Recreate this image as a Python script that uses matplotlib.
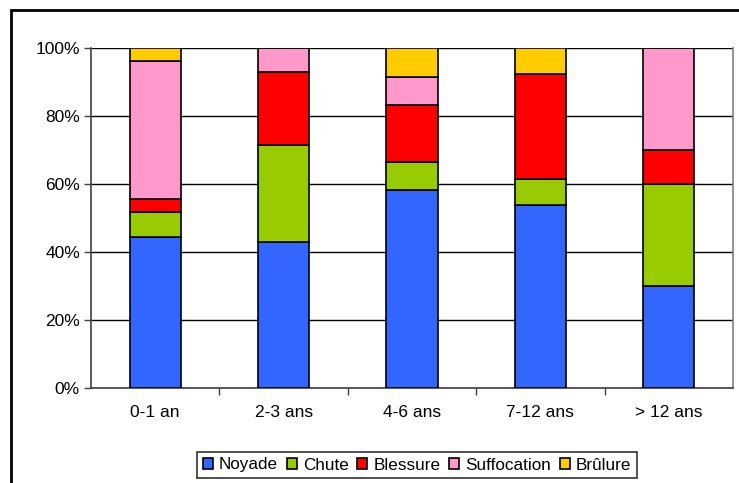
import matplotlib
matplotlib.use("Agg")
import matplotlib.pyplot as plt
from matplotlib.patches import Rectangle
from matplotlib.ticker import FuncFormatter, FixedLocator

plt.rcParams['font.family'] = ['Liberation Sans', 'DejaVu Sans']

# share of each cause per age group (%)
categories = ["0-1 an", "2-3 ans", "4-6 ans", "7-12 ans", "> 12 ans"]
noyade = [44.4, 42.9, 58.3, 53.8, 30.0]
chute = [7.4, 28.6, 8.3, 7.7, 30.0]
blessure = [3.7, 21.4, 16.7, 30.8, 10.0]
suffocation = [40.7, 7.1, 8.3, 0.0, 30.0]
brulure = [3.8, 0.0, 8.4, 7.7, 0.0]

series = [("Noyade", noyade, "#3366ff"),
          ("Chute", chute, "#99cc00"),
          ("Blessure", blessure, "#ff0000"),
          ("Suffocation", suffocation, "#ff99cc"),
          ("Brûlure", brulure, "#ffcc00")]

fig = plt.figure(figsize=(7.39, 4.83), dpi=100)
ax = fig.add_axes([91/739, 1-388/483, (733-91)/739, (388-48)/483])

x = list(range(len(categories)))
bottom = [0.0]*len(categories)
for name, vals, col in series:
    ax.bar(x, vals, width=0.4, bottom=bottom, color=col, edgecolor="black",
           linewidth=1.2, label=name, zorder=3)
    bottom = [b+v for b, v in zip(bottom, vals)]

ax.set_xlim(-0.5, len(categories)-0.5)
ax.set_ylim(0, 100)
ax.set_yticks(range(0, 101, 20))
ax.yaxis.set_major_formatter(FuncFormatter(lambda v, p: "%d%%" % v))
ax.grid(axis="y", color="black", linewidth=1, zorder=0)

ax.set_xticks(x)
ax.set_xticklabels(categories)
ax.xaxis.set_minor_locator(FixedLocator([i+0.5 for i in range(len(categories)-1)]))
ax.tick_params(axis="x", which="major", length=0, pad=12, labelsize=12.5)
ax.tick_params(axis="x", which="minor", length=5, width=1, color="#404040")
ax.tick_params(axis="y", length=5, width=1, color="#404040", labelsize=12.5, pad=3)

ax.spines["top"].set_visible(False)
ax.spines["left"].set_color("#404040")
ax.spines["bottom"].set_color("#404040")
ax.spines["left"].set_linewidth(1.2)
ax.spines["bottom"].set_linewidth(1.2)
ax.spines["right"].set_color("#808080")
ax.spines["right"].set_linewidth(1.2)

leg = fig.legend(loc="center", bbox_to_anchor=(417/739, 1-465/483), ncol=5,
                 fontsize=12.3, frameon=True, fancybox=False, handlelength=0.6,
                 handleheight=0.6, handletextpad=0.35, columnspacing=0.5,
                 borderpad=0.35, borderaxespad=0)
leg.get_frame().set_edgecolor("black")
leg.get_frame().set_linewidth(1.2)

# outer chart border
fig.patches.append(Rectangle((11/739, -0.1), 1.2, 1-10/483+0.1, transform=fig.transFigure,
                             fill=False, edgecolor="black", linewidth=2))

fig.savefig("out.png", dpi=100)
